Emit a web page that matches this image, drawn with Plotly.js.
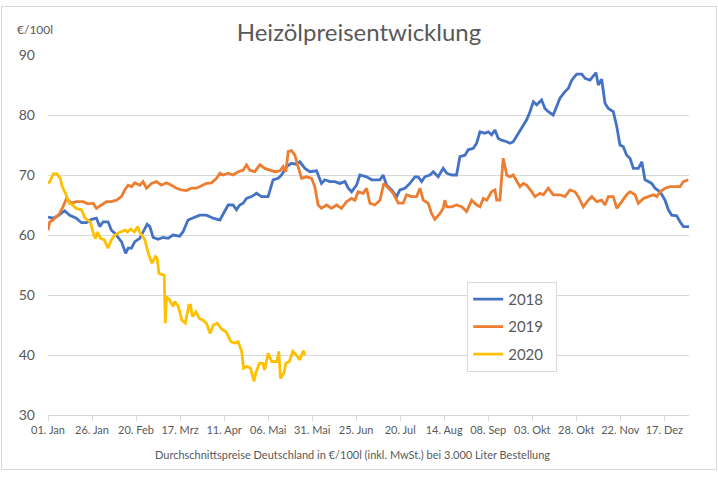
<!DOCTYPE html>
<html>
<head>
<meta charset="utf-8">
<script src="https://cdn.plot.ly/plotly-3.0.1.min.js"></script>
<style>
html,body{margin:0;padding:0;background:#fff;}
#chart{position:absolute;left:0;top:0;width:718px;height:478px;}
#frame{position:absolute;left:1px;top:6px;width:716px;height:464px;border:1px solid #d9d9d9;box-sizing:border-box;pointer-events:none;}
</style>
</head>
<body>
<div id="chart"></div>
<div id="frame"></div>
<script>
// x values: days since 01. Jan
const tickDays = [0,25,50,75,100,125,150,175,200,225,250,275,300,325,350];
const tickLabels = ["01. Jan","26. Jan","20. Feb","17. Mrz","11. Apr","06. Mai","31. Mai","25. Jun","20. Jul","14. Aug","08. Sep","03. Okt","28. Okt","22. Nov","17. Dez"];

const days2018 = [0,2.8,5.7,9.5,12.3,16.1,19,21.8,24.7,27.5,29.4,31.3,34.1,36,37.9,39.8,41.7,44.1,45.5,47.4,49.3,52.1,54,56.3,57.8,59.7,62.5,65.3,68.2,71,74.8,76.7,79.5,82.4,86.2,90,93.8,97.6,100.4,102.3,105.1,107,108.9,110.8,112.7,115.6,118.4,121.3,125,126.4,127.8,130.7,132.6,135.5,138.3,141.1,143,145.9,148.7,152.5,155.3,157.2,160.1,162.9,165.7,168.6,170.5,172.4,175.2,177.1,180.9,183.8,188.5,190.3,192.3,195.1,198,199.8,202.7,205.5,208.4,210.2,212.2,214,216.9,218.8,221.6,224.4,226.4,229.2,232,233.9,236.8,238.6,241.5,243.4,245.3,248.1,250,251.9,253.8,255.7,257.6,260.5,262.3,264.2,267,269.9,271.8,273.7,275.6,277.5,280.3,282.2,284.1,286.9,288.9,290.7,293.6,295.5,297.4,300.2,303.1,305,307.8,309.7,311.2,312.5,314.4,316.3,318.2,321,323,324.8,326.7,328.6,330.5,332.4,335.2,337.2,339,340.9,342.8,344.7,347.6,350.4,352.3,354.2,357,358.9,360.8,364.2];
const values2018 = [63.0,62.8,63.2,64.05,63.3,62.8,62.05,62.05,62.6,62.8,61.4,62.2,62.2,60.8,60.3,59.5,58.9,56.95,57.8,57.8,58.9,59.45,60.55,61.8,61.4,59.6,59.3,59.6,59.45,60.0,59.8,60.55,62.5,62.8,63.3,63.3,62.8,62.5,63.9,65.0,65.0,64.2,65.0,65.3,66.1,66.4,66.95,66.4,66.4,67.8,69.2,69.45,70.0,71.4,71.95,71.8,72.2,71.1,70.55,70.7,68.6,69.2,68.9,68.9,68.6,68.9,67.8,67.2,68.3,70.0,69.7,69.2,69.2,70.0,68.3,67.5,66.4,67.5,67.8,68.6,69.7,69.7,68.9,69.7,70.0,70.55,69.7,71.1,70.3,70.0,70.0,73.05,73.3,74.2,74.45,75.3,77.2,76.95,77.2,76.7,77.5,76.1,75.8,75.55,75.3,75.55,76.95,78.3,79.2,80.55,82.2,81.7,82.5,81.1,80.55,80.0,81.4,82.8,83.9,84.45,85.8,86.8,86.8,86.1,85.8,86.4,87.05,85.0,85.95,81.95,81.1,80.55,78.05,75.0,74.7,73.3,72.8,71.1,71.1,72.2,69.2,68.9,68.6,67.8,67.2,65.8,64.2,63.3,63.2,62.2,61.4,61.4];

const days2019 = [0,1,2.8,4.8,6.6,8.5,10.5,13.3,16.1,19.9,22.7,25.6,27.5,30.3,33.2,36,38.9,41.7,43.6,45.5,47.4,49.3,52.1,54,55.9,58.8,61.6,64.4,67.3,70.1,73,75.8,78.6,81.5,84.3,87.2,90,92.8,95.7,97.6,99.4,102.3,105.1,108,110.8,112.7,114.6,117.4,120.3,123.1,126,128.8,131.7,133.5,135.1,136.4,138.3,140.2,142,144,146.8,149.7,151.5,153.4,155.3,158.2,161,163.9,166.7,169.5,172.4,174.3,176.1,179,180.9,182.8,185.6,188.5,190.7,193.2,196,198.9,201.7,203.6,206.5,209.3,211.2,213.1,215.9,217.8,219.7,222.6,224.4,225.4,226.4,229.2,232,234.9,237.7,240.6,243.4,245.3,247.2,249.1,251.9,253.8,254.8,256.6,258.5,260.5,262.3,264.2,266.1,268,269.9,271.8,274.7,276.5,279.4,281.3,284.1,286.9,290.7,293.6,296.4,299.3,301.1,304,306.8,308.8,311.6,314.4,316.3,318.2,321,323,325.8,328.6,330.5,333.4,335.2,338.1,340.9,343.8,345.7,347.6,350.4,353.2,356.1,358.9,360.8,363.6];
const values2019 = [60.8,62.2,62.5,63.05,63.6,64.7,66.1,65.3,65.55,65.55,65.2,65.3,64.45,65.0,65.55,65.55,65.8,66.4,67.5,68.3,68.05,68.7,68.3,68.9,67.8,68.6,68.9,68.3,68.7,68.3,67.8,67.5,67.4,67.8,67.8,68.2,68.6,68.7,69.45,70.3,70.0,70.3,70.0,70.55,70.8,71.7,70.8,70.55,71.7,71.1,70.8,70.55,70.7,71.4,70.55,73.9,74.05,73.3,71.4,69.45,69.7,69.45,68.05,65.0,64.45,65.0,64.45,65.0,64.45,65.55,66.1,65.8,67.2,66.95,67.8,65.3,65.0,65.8,68.6,67.8,66.95,65.3,65.3,66.7,66.4,66.4,67.8,65.8,65.3,63.6,62.6,63.6,64.45,65.8,64.7,64.7,65.0,64.7,63.9,65.8,65.0,64.7,66.1,65.8,67.2,67.5,65.8,65.8,72.8,70.0,69.7,70.0,68.9,68.05,68.6,68.3,67.2,66.4,66.95,66.7,67.8,66.7,66.7,66.4,67.5,67.2,66.4,64.7,65.8,66.4,65.55,65.8,65.0,66.4,66.4,64.45,65.55,66.7,67.2,66.7,65.3,66.1,66.4,66.7,66.4,67.2,67.8,68.05,68.05,68.05,68.9,69.2];

const days2020 = [0,1,3,5,7,8,10,12,14,16,19,21,24,26,27,28,30,32,34,36,38,41,44,45,47,49,51,52,55,57,59,61,62,63,66,66.6,67.3,69,71,72,74,76,78,80,81,82,84,86,88,90,92,94,96,99,101,104,106,108,110,111,113,115,117,118,120,122,123,125,127,130,131,132,134,135,137,139,141,143,145,146];
const values2020 = [68.6,68.9,70.2,70.2,69.4,68.1,66.9,65.3,65.0,64.4,64.2,62.8,62.2,60.0,59.4,60.5,59.4,59.2,57.8,59.2,60.0,60.5,60.8,60.5,61.0,60.5,61.4,60.5,59.2,56.9,55.3,56.4,56.1,53.6,53.3,45.3,49.7,49.2,48.1,48.9,48.1,45.8,45.3,48.3,48.3,46.4,47.2,46.1,45.8,45.3,43.6,45.0,45.3,44.2,43.9,42.2,42.0,42.2,40.6,37.8,38.1,37.8,35.6,37.0,38.6,38.6,37.5,40.3,38.9,38.9,40.6,36.1,37.0,38.6,38.9,40.6,40.0,39.2,40.7,40.0];

const seriesNames = ["2018","2019","2020"];
const seriesColors = ["#4472C4","#ED7D31","#FFC000"];
const seriesDays = [days2018, days2019, days2020];
const seriesValues = [values2018, values2019, values2020];

const font = "Lato, 'Open Sans', sans-serif";
const grey = "#595959";

const traces = seriesNames.map((n, i) => ({
  type: "scatter", mode: "lines", name: n + "\u00a0\u00a0", legendgroup: n,
  x: seriesDays[i], y: seriesValues[i],
  line: {color: seriesColors[i], width: 2.8},
  hoverinfo: "skip"
}));

const layout = {
  width: 718, height: 478,
  margin: {l: 48, r: 29, t: 55, b: 63},
  paper_bgcolor: "rgba(0,0,0,0)", plot_bgcolor: "#fff",
  font: {family: font, color: grey},
  title: {text: "Heizölpreisentwicklung", x: 0.5, xref: "container", xanchor: "center",
          y: 1 - 33/478, yref: "container", yanchor: "middle",
          font: {family: font, size: 24, color: grey}},
  xaxis: {range: [0, 364], tickvals: tickDays, ticktext: tickLabels,
          showgrid: false, zeroline: false, showline: true, linecolor: "#d9d9d9", linewidth: 1,
          ticks: "outside", ticklen: 5, tickcolor: "#d9d9d9", tickwidth: 1,
          tickfont: {family: font, size: 11, color: grey}, automargin: false},
  yaxis: {range: [30, 90], dtick: 10, tick0: 30, showgrid: true, gridcolor: "#d9d9d9", gridwidth: 1,
          zeroline: false, showline: false, ticks: "", ticklabelstandoff: 12,
          tickfont: {family: font, size: 14, color: grey}, automargin: false},
  legend: {x: 0.654, y: 0.37, xanchor: "left", yanchor: "top", bgcolor: "#fff",
           bordercolor: "#d9d9d9", borderwidth: 1, traceorder: "grouped", tracegroupgap: 5,
           font: {family: font, size: 15, color: grey}},
  annotations: [
    {text: "€/100l", xref: "paper", yref: "paper", x: (15-48)/641, y: (415-29)/360,
     xanchor: "left", yanchor: "middle", showarrow: false, font: {family: font, size: 12, color: grey}},
    {text: "Durchschnittspreise Deutschland in €/100l (inkl. MwSt.) bei 3.000 Liter Bestellung",
     xref: "paper", yref: "paper", x: (352-48)/641, y: -(454-415)/360,
     xanchor: "center", yanchor: "middle", showarrow: false, font: {family: font, size: 11, color: grey}}
  ],
  showlegend: true
};

Plotly.newPlot("chart", traces, layout, {displayModeBar: false, staticPlot: true});
</script>
</body>
</html>
